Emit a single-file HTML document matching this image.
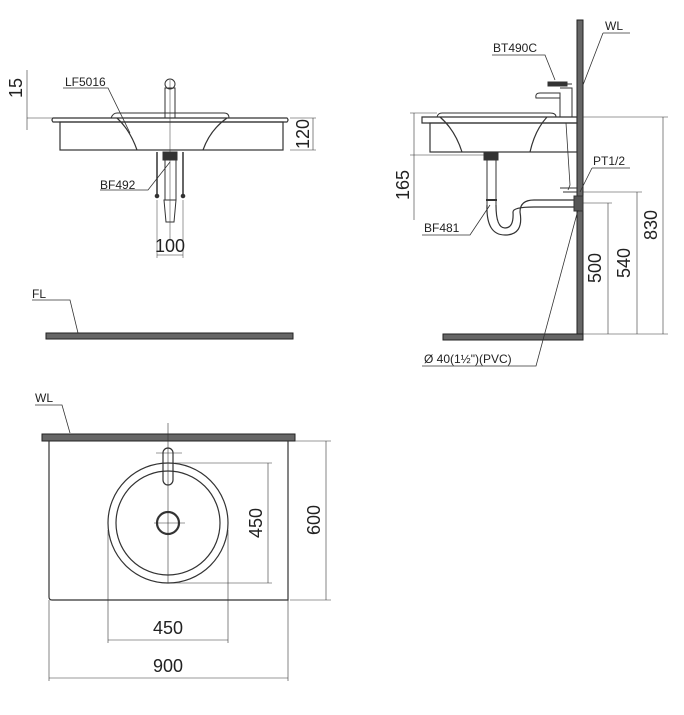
<!DOCTYPE html>
<html><head><meta charset="utf-8"><style>
html,body{margin:0;padding:0;background:#fff;}
svg{display:block;}
text{font-family:"Liberation Sans",Arial,sans-serif;fill:#222;}
</style></head><body>
<svg width="684" height="715" viewBox="0 0 684 715" xmlns="http://www.w3.org/2000/svg">
<g stroke="#333" fill="none" stroke-width="1">
<!-- ===== TOP LEFT ===== -->
<line x1="27" y1="70" x2="27" y2="130" stroke-width="0.6"/>
<line x1="27" y1="118" x2="53" y2="118" stroke-width="0.6"/>
<path d="M53 118 H287 Q289 120 287 122 H53 Q51 120 53 118Z" stroke-width="1.2"/>
<path d="M111 118 Q113 113 117 113 H224 Q229 113 229 118"/>
<rect x="60" y="122" width="223" height="28" stroke-width="1.2"/>
<path d="M117 118 Q130 130 137 150 M227 118 Q210 130 203 150" stroke-width="1.2"/>
<rect x="165" y="88" width="10" height="30"/>
<circle cx="170" cy="84" r="5"/>
<line x1="170" y1="80" x2="170" y2="240" stroke-width="0.5"/>
<rect x="163" y="152" width="14" height="8" fill="#333"/>
<rect x="165" y="160" width="11" height="40"/>
<path d="M164 200 L176 200 L174 222 L166 222Z"/>
<line x1="157" y1="152" x2="157" y2="195" stroke-width="1.5"/>
<line x1="183" y1="152" x2="183" y2="195" stroke-width="1.5"/>
<circle cx="157" cy="196" r="1.8" fill="#333"/>
<circle cx="183" cy="196" r="1.8" fill="#333"/>
<line x1="157" y1="200" x2="157" y2="258" stroke-width="0.5"/>
<line x1="183" y1="200" x2="183" y2="258" stroke-width="0.5"/>
<line x1="157" y1="255" x2="183" y2="255" stroke-width="0.6"/>
<line x1="290" y1="118" x2="316" y2="118" stroke-width="0.6"/>
<line x1="290" y1="150" x2="316" y2="150" stroke-width="0.6"/>
<line x1="313" y1="118" x2="313" y2="150" stroke-width="0.6"/>
<path d="M63 88 H108 L130 133" stroke-width="0.8"/>
<path d="M100 190 H148 L170 162" stroke-width="0.8"/>
<!-- FL -->
<path d="M32 300 H70 L78 333" stroke-width="0.8"/>
<rect x="46" y="333" width="247" height="6" fill="#666" stroke="#222"/>
<!-- ===== TOP RIGHT ===== -->
<rect x="577" y="20" width="6" height="320" fill="#666" stroke="#222"/>
<rect x="443" y="334" width="140" height="6" fill="#666" stroke="#222"/>
<path d="M422 117 H577 V123 H422Z" stroke-width="1.2"/>
<path d="M437 117 Q438 113 442 113 H550 Q556 113 556 117"/>
<rect x="430" y="123" width="147" height="29" stroke-width="1.2"/>
<path d="M440 117 Q455 130 462 152 M547 117 Q535 130 530 152" stroke-width="1.2"/>
<!-- faucet -->
<path d="M560 117 V93 H540 Q535 93 536 98 H560 M560 88 H572 V117 M548 84 H572" stroke-width="1"/>
<path d="M548 82 H567 V86 H548Z" fill="#333"/>
<path d="M566 123 L570 185 L568 190" stroke-width="0.8"/>
<path d="M560 188 H577 M563 192 H577" stroke-width="1"/>
<!-- drain & trap -->
<rect x="484" y="152" width="14" height="8" fill="#333"/>
<path d="M487 160 V205 M496 160 V205" stroke-width="1"/>
<line x1="486" y1="200" x2="497" y2="200" stroke-width="2"/>
<path d="M487 205 Q486 235 505 235 Q524 235 520 212 Q520 200 534 200 H577 M496 205 Q496 228 505 228 Q514 228 513 212 Q513 207 534 207 H577" stroke-width="1.2"/>
<rect x="574" y="196" width="9" height="15" fill="#555"/>
<!-- dims right -->
<line x1="410" y1="113" x2="437" y2="113" stroke-width="0.6"/>
<line x1="410" y1="155" x2="484" y2="155" stroke-width="0.6"/>
<line x1="414" y1="113" x2="414" y2="220" stroke-width="0.6"/>
<line x1="583" y1="117" x2="668" y2="117" stroke-width="0.6"/>
<line x1="583" y1="192" x2="642" y2="192" stroke-width="0.6"/>
<line x1="583" y1="203" x2="612" y2="203" stroke-width="0.6"/>
<line x1="583" y1="334" x2="668" y2="334" stroke-width="0.6"/>
<line x1="663" y1="117" x2="663" y2="334" stroke-width="0.6"/>
<line x1="637" y1="192" x2="637" y2="334" stroke-width="0.6"/>
<line x1="608" y1="203" x2="608" y2="334" stroke-width="0.6"/>
<!-- leaders -->
<path d="M603 33 H630 M603 33 L583 85" stroke-width="0.8"/>
<path d="M492 55 H545 L555 80" stroke-width="0.8"/>
<path d="M592 168 H630 M592 168 L580 192" stroke-width="0.8"/>
<path d="M422 235 H470 L490 205" stroke-width="0.8"/>
<path d="M422 366 H536 L578 210" stroke-width="0.8"/>
<!-- ===== BOTTOM ===== -->
<rect x="42" y="434" width="253" height="7" fill="#666" stroke="#222"/>
<path d="M35 405 H62 L70 433" stroke-width="0.8"/>
<path d="M49 441 V597 Q49 600 52 600 H288 V441" stroke-width="1.2"/>
<circle cx="168" cy="523" r="60" stroke-width="1.2"/>
<circle cx="168" cy="523" r="52" stroke-width="1.2"/>
<circle cx="168" cy="523" r="11" stroke-width="2.2"/>
<rect x="163" y="448" width="10" height="37" rx="5" stroke-width="1.2"/>
<line x1="168" y1="423" x2="168" y2="583" stroke-width="0.6"/>
<line x1="154" y1="523" x2="185" y2="523" stroke-width="0.6"/>
<line x1="156" y1="453" x2="182" y2="453" stroke-width="0.6"/>
<line x1="175" y1="463" x2="272" y2="463" stroke-width="0.6"/>
<line x1="170" y1="583" x2="272" y2="583" stroke-width="0.6"/>
<line x1="268" y1="463" x2="268" y2="583" stroke-width="0.6"/>
<line x1="295" y1="441" x2="331" y2="441" stroke-width="0.6"/>
<line x1="290" y1="600" x2="331" y2="600" stroke-width="0.6"/>
<line x1="326" y1="441" x2="326" y2="600" stroke-width="0.6"/>
<line x1="108" y1="530" x2="108" y2="643" stroke-width="0.6"/>
<line x1="228" y1="530" x2="228" y2="643" stroke-width="0.6"/>
<line x1="108" y1="640" x2="228" y2="640" stroke-width="0.6"/>
<line x1="49" y1="600" x2="49" y2="681" stroke-width="0.6"/>
<line x1="288" y1="600" x2="288" y2="681" stroke-width="0.6"/>
<line x1="49" y1="678" x2="288" y2="678" stroke-width="0.6"/>
</g>
<!-- texts -->
<text x="65" y="86" font-size="12">LF5016</text>
<text x="100" y="189" font-size="12">BF492</text>
<text x="170" y="252" font-size="18" text-anchor="middle">100</text>
<text transform="translate(22,88) rotate(-90)" font-size="18" text-anchor="middle">15</text>
<text transform="translate(309,134) rotate(-90)" font-size="18" text-anchor="middle">120</text>
<text x="32" y="298" font-size="12">FL</text>
<text x="605" y="30" font-size="12">WL</text>
<text x="493" y="52" font-size="12">BT490C</text>
<text x="593" y="165" font-size="12">PT1/2</text>
<text x="424" y="232" font-size="12">BF481</text>
<text x="424" y="363" font-size="12">Ø 40(1½")(PVC)</text>
<text transform="translate(409,185) rotate(-90)" font-size="18" text-anchor="middle">165</text>
<text transform="translate(601,268) rotate(-90)" font-size="18" text-anchor="middle">500</text>
<text transform="translate(630,263) rotate(-90)" font-size="18" text-anchor="middle">540</text>
<text transform="translate(657,225) rotate(-90)" font-size="18" text-anchor="middle">830</text>
<text x="35" y="402" font-size="12">WL</text>
<text transform="translate(262,523) rotate(-90)" font-size="18" text-anchor="middle">450</text>
<text transform="translate(320,520) rotate(-90)" font-size="18" text-anchor="middle">600</text>
<text x="168" y="634" font-size="18" text-anchor="middle">450</text>
<text x="168" y="672" font-size="18" text-anchor="middle">900</text>
</svg>
</body></html>
